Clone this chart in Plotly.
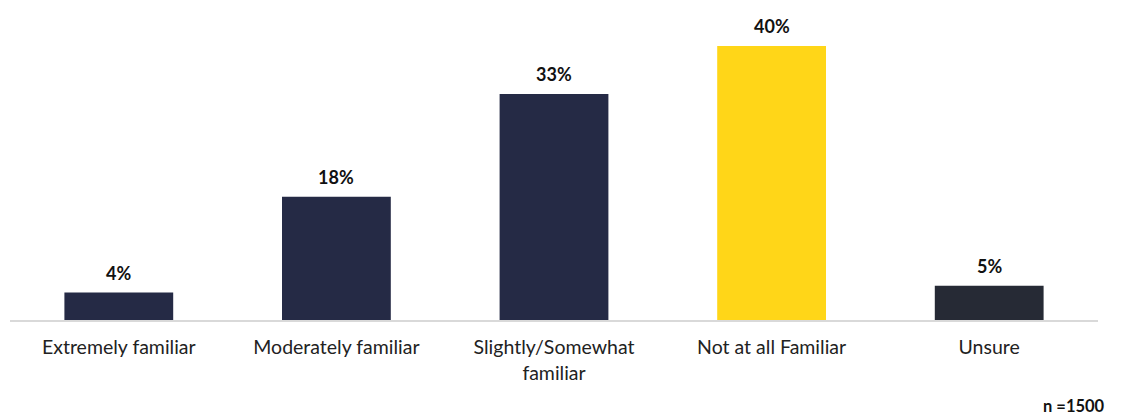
import plotly.graph_objects as go

categories = ["Extremely familiar", "Moderately familiar", "Slightly/Somewhat<br>familiar",
              "Not at all Familiar", "Unsure"]
values = [4, 18, 33, 40, 5]
labels = ["4%", "18%", "33%", "40%", "5%"]
colors = ["#252A45", "#252A45", "#252A45", "#FFD618", "#262A35"]

fig = go.Figure(go.Bar(
    x=categories, y=values,
    marker=dict(color=colors, line=dict(width=0)),
    hoverinfo="x+y",
))

# value labels sitting just above each bar
value_notes = [
    dict(x=c, y=v, text=f"<b>{t}</b>", xref="x", yref="y", showarrow=False,
         yanchor="middle", yshift=20,
         font=dict(family="Lato", size=18, color="#111111"))
    for c, v, t in zip(categories, values, labels)
]

fig.update_layout(
    width=1126, height=417,
    margin=dict(l=10, r=28, t=10, b=97),
    paper_bgcolor="white", plot_bgcolor="white",
    bargap=0.5, showlegend=False,
    font=dict(family="Lato", size=19.5, color="#222222"),
    xaxis=dict(showline=True, linecolor="#D9D9D9", linewidth=1.5,
               showgrid=False, ticks="", ticklabelstandoff=9,
               tickfont=dict(size=19.5, color="#222222")),
    yaxis=dict(range=[0, 45.26], visible=False, showgrid=False, zeroline=False),
    annotations=value_notes + [
        dict(text="<b>n =1500</b>", xref="paper", yref="paper",
             x=1.008, y=-0.276, xanchor="right", yanchor="middle",
             showarrow=False, font=dict(size=16.5, color="#111111"))],
)

fig.write_html("out.html")
